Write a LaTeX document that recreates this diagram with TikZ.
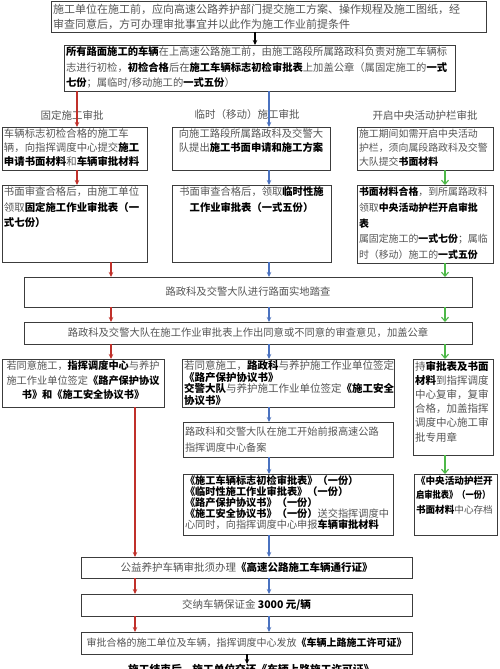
\documentclass[tikz,border=0pt]{standalone}
\usepackage{fontspec}
\setmainfont{Noto Sans CJK SC}
\usetikzlibrary{arrows.meta}
\definecolor{txt}{HTML}{555555}
\definecolor{bd}{HTML}{3C3C3C}
\definecolor{ar}{HTML}{C0302A}
\definecolor{ab}{HTML}{4A72C0}
\definecolor{ag}{HTML}{4DB848}
\newcommand\B[1]{{\bfseries\color{black}#1}}
\newcommand\fz[2]{\fontsize{#1pt}{#2pt}\selectfont}
\newcommand\bt[4][t]{\parbox[c][\dimexpr#3pt-4pt\relax][#1]{\dimexpr#2pt-4pt\relax}{#4}}
\tikzset{
  box/.style={draw=bd, line width=0.8pt, anchor=north west, inner xsep=2pt, inner ysep=2pt, outer sep=0pt, text=txt},
  lbl/.style={text=txt, inner sep=0pt, font=\fz{10.5}{12}},
  arK/.style={line width=1.1pt, draw=black, -{Stealth[length=5pt,width=4.5pt]}},
  arR/.style={line width=1.1pt, draw=ar, -{Stealth[length=5pt,width=4.5pt]}},
  arB/.style={line width=1.1pt, draw=ab, -{Stealth[length=5pt,width=4.5pt]}},
  arG/.style={line width=1.1pt, draw=ag, -{Straight Barb[length=4pt,width=7pt]}}
}
\begin{document}
\begin{tikzpicture}[x=1pt,y=1pt]
\useasboundingbox (0,0) rectangle (500,-669);
\fill[white] (0,0) rectangle (500,-669);
% column coordinates
\coordinate (cK) at (255,0);
\coordinate (cK2) at (247,0);
\coordinate (cR1) at (77,0);
\coordinate (cR2) at (111,0);
\coordinate (cR3) at (135,0);
\coordinate (cB) at (269,0);
\coordinate (cG) at (445,0);

\node[box] (B1) at (51,-1) {\bt[c]{435}{31}{\fz{11}{15}\raggedright
施工单位在施工前，应向高速公路养护部门提交施工方案、操作规程及施工图纸，经\\
审查同意后，方可办理审批事宜并以此作为施工作业前提条件}};

\node[box] (B2) at (64,-45) {\bt{391}{46}{\fz{10.3}{15.2}\raggedright
\B{所有路面施工的车辆}在上高速公路施工前，由施工路段所属路政科负责对施工车辆标\\
志进行初检，\B{初检合格}后在\B{施工车辆标志初检审批表}上加盖公章（属固定施工的\B{一式}\\
\B{七份}；属临时/移动施工的\B{一式五份}）}};

\node[lbl] (lL) at (72,-115) {固定施工审批};
\node[lbl] (lM) at (247,-115) {临时（移动）施工审批};
\node[lbl] (lR) at (425,-115) {开启中央活动护栏审批};

\node[box] (L1) at (2,-127) {\bt{145}{43}{\fz{10.4}{14}\raggedright
车辆标志初检合格的施工车\\
辆，向指挥调度中心提交\B{施工}\\
\B{申请书面材料}和\B{车辆审批材料}}};

\node[box] (M1) at (172,-127) {\bt{158}{43}{\fz{10.3}{14}\centering
向施工路段所属路政科及交警大\\
队提出\B{施工书面申请和施工方案}}};

\node[box] (R1) at (357,-127) {\bt{136}{43}{\fz{9.9}{14}\raggedright
施工期间如需开启中央活动\\
护栏，须向属段路政科及交警\\
大队提交\B{书面材料}}};

\node[box] (L2) at (2,-185) {\bt{145}{77}{\fz{10.4}{15.5}\raggedright
书面审查合格后，由施工单位\\
领取\B{固定施工作业审批表（一}\\
\B{式七份）}}};

\node[box] (M2) at (172,-185) {\bt{159}{77}{\fz{10.3}{15.5}\centering
书面审查合格后，领取\B{临时性施}\\
\B{工作业审批表（一式五份）}}};

\node[box] (R2) at (357,-185) {\bt{136}{78}{\fz{9.9}{15.8}\raggedright
\B{书面材料合格}，到所属路政科\\
领取\B{中央活动护栏开启审批}\\
\B{表}\\
属固定施工的\B{一式七份}；属临\\
时（移动）施工的\B{一式五份}}};

\node[box] (S1) at (24,-277) {\bt[c]{448}{30}{\fz{10.3}{12}\centering
路政科及交警大队进行路面实地踏查}};

\node[box] (S2) at (24,-322) {\bt[c]{448}{22}{\fz{10.3}{12}\centering
路政科及交警大队在施工作业审批表上作出同意或不同意的审查意见，加盖公章}};

\node[box] (L3) at (2,-359) {\bt{162}{48}{\fz{10.2}{14.5}\centering
若同意施工，\B{指挥调度中心}与养护\\
施工作业单位签定\B{《路产保护协议}\\
\B{书》和《施工安全协议书》}}};

\node[box] (M3) at (182,-359) {\bt{212}{48}{\fz{10.5}{11.5}\raggedright
若同意施工，\B{路政科}与养护施工作业单位签定\\
\B{《路产保护协议书》}\\
\B{交警大队}与养护施工作业单位签定\B{《施工安全}\\
\B{协议书》}}};

\node[box] (R3) at (413,-359) {\bt{80}{96}{\fz{10.5}{14.2}\raggedright
持\B{审批表及书面}\\
\B{材料}到指挥调度\\
中心复审，复审\\
合格，加盖指挥\\
调度中心施工审\\
批专用章}};

\node[box] (M4) at (183,-422) {\bt[c]{210}{35}{\fz{10.2}{16}\raggedright
路政科和交警大队在施工开始前报高速公路\\
指挥调度中心备案}};

\node[box] (M5) at (183,-474) {\bt{210}{61}{\fz{10.2}{11}\raggedright
\B{《施工车辆标志初检审批表》（一份）}\\
\B{《临时性施工作业审批表》（一份）}\\
\B{《路产保护协议书》（一份）}\\
\B{《施工安全协议书》（一份）}送交指挥调度中\\
心同时，向指挥调度中心申报\B{车辆审批材料}}};

\node[box] (R4) at (414,-474) {\bt{83}{61}{\fz{9.6}{14.7}\raggedright
\B{《中央活动护栏开}\\
\scalebox{0.86}[1]{\B{启审批表》（一份）}}\\
\B{书面材料}中心存档}};

\node[box] (P1) at (81,-557) {\bt[c]{331}{21}{\fz{10.5}{12}\centering
公益养护车辆审批须办理\B{《高速公路施工车辆通行证》}}};

\node[box] (P2) at (81,-594) {\bt[c]{331}{22}{\fz{10.5}{12}\centering
交纳车辆保证金 \B{3000 元/辆}}};

\node[box] (P3) at (81,-632) {\bt[c]{331}{22}{\fz{10}{12}\centering
审批合格的施工单位及车辆，指挥调度中心发放\B{《车辆上路施工许可证》}}};

\node[anchor=north west, inner sep=0pt, font=\fz{10.7}{12}] (F) at (128,-664) {\B{施工结束后，施工单位交还《车辆上路施工许可证》}};

% connectors
\draw[arK] (B1.south -| cK) -- (B2.north -| cK);
\draw[arR] (B2.south -| cR1) -- (L1.north -| cR1);
\draw[arB] (B2.south -| cB) -- (M1.north -| cB);
\draw[arR] (L1.south -| cR1) -- (L2.north -| cR1);
\draw[arB] (M1.south -| cB) -- (M2.north -| cB);
\draw[arG] (R1.south -| cG) -- (R2.north -| cG);
\draw[arR] (L2.south -| cR2) -- (S1.north -| cR2);
\draw[arB] (M2.south -| cB) -- (S1.north -| cB);
\draw[arG] (R2.south -| cG) -- (S1.north -| cG);
\draw[arR] (S1.south -| cR2) -- (S2.north -| cR2);
\draw[arB] (S1.south -| cB) -- (S2.north -| cB);
\draw[arG] (S1.south -| cG) -- (S2.north -| cG);
\draw[arR] (S2.south -| cR2) -- (L3.north -| cR2);
\draw[arB] (S2.south -| cB) -- (M3.north -| cB);
\draw[arG] (S2.south -| cG) -- (R3.north -| cG);
\draw[arR] (L3.south -| cR3) -- (P1.north -| cR3);
\draw[arB] (M3.south -| cB) -- (M4.north -| cB);
\draw[arB] (M4.south -| cB) -- (M5.north -| cB);
\draw[arG] (R3.south -| cG) -- (R4.north -| cG);
\draw[arB] (M5.south -| cB) -- (P1.north -| cB);
\draw[arR] (P1.south -| cR3) -- (P2.north -| cR3);
\draw[arB] (P1.south -| cB) -- (P2.north -| cB);
\draw[arR] (P2.south -| cR3) -- (P3.north -| cR3);
\draw[arB] (P2.south -| cB) -- (P3.north -| cB);
\draw[arK] (P3.south -| cK2) -- (F.north -| cK2);
\end{tikzpicture}
\end{document}
